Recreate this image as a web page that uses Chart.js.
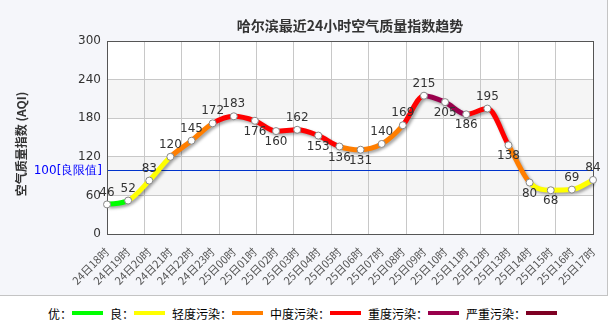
<!DOCTYPE html>
<html>
<head>
<meta charset="utf-8">
<script src="https://cdn.jsdelivr.net/npm/chart.js@4"></script>
<style>
body{margin:0;background:#fff;width:608px;height:330px;overflow:hidden;font-family:"Noto Sans CJK SC",sans-serif}
#panel{position:relative;width:608px;height:296px;box-sizing:border-box;background:#f5f6fa;border-right:1px solid #c4c4c4;border-bottom:1px solid #c4c4c4}
#box{position:relative;width:607px;height:295px}
#legend{display:flex;align-items:center;height:34px;padding-left:48px;font-size:12px;color:#000}
.lg{display:flex;align-items:center;margin-right:7px}
.lg i{display:inline-block;width:31px;height:4px}
</style>
</head>
<body>
<div id="panel"><div id="box"><canvas id="aqiChart"></canvas></div></div>
<div id="legend"></div>
<script>
const HOURS = ['24日18时','24日19时','24日20时','24日21时','24日22时','24日23时','25日00时','25日01时','25日02时','25日03时','25日04时','25日05时','25日06时','25日07时','25日08时','25日09时','25日10时','25日11时','25日12时','25日13时','25日14时','25日15时','25日16时','25日17时'];
const AQI = [46,52,83,120,145,172,183,176,160,162,153,136,131,140,169,215,205,186,195,138,80,68,69,84];
const Y_TICKS = [0,60,120,180,240,300];
const LEVEL_NAMES = ['优','良','轻度污染','中度污染','重度污染','严重污染'];
const LEVEL_MAX = [50,100,150,200,300,500];
const LEVEL_COLORS = ['#00ff00','#ffff00','#ff7e00','#ff0000','#99004c','#7e0023'];
const LIMIT = 100;
const TITLE = '哈尔滨最近24小时空气质量指数趋势';
const Y_TITLE = '空气质量指数 (AQI)';

function levelColor(v){
  for(let i=0;i<LEVEL_MAX.length;i++) if(v<=LEVEL_MAX[i]) return LEVEL_COLORS[i];
  return LEVEL_COLORS[LEVEL_COLORS.length-1];
}

// legend: name then a coloured stroke
document.getElementById('legend').innerHTML = LEVEL_NAMES.map(function(n,i){
  return '<span class="lg">'+n+'：<i style="background:'+LEVEL_COLORS[i]+'"></i></span>';
}).join('');

const decor = {
  id:'decor',
  beforeDraw(chart){
    const c=chart.ctx, a=chart.chartArea, y=chart.scales.y;
    c.save();
    c.fillStyle='#fff';
    c.fillRect(a.left,a.top,a.right-a.left,a.bottom-a.top);
    c.fillStyle='#f5f5f5';
    [[60,120],[180,240]].forEach(function(b){
      const t=y.getPixelForValue(b[1]), btm=y.getPixelForValue(b[0]);
      c.fillRect(a.left,t,a.right-a.left,btm-t);
    });
    c.restore();
  },
  beforeDatasetsDraw(chart){
    const c=chart.ctx, a=chart.chartArea, y=chart.scales.y;
    const py=Math.round(y.getPixelForValue(LIMIT))+0.5;
    c.save();
    c.strokeStyle='#0033cc'; c.lineWidth=1;
    c.beginPath(); c.moveTo(a.left,py); c.lineTo(a.right,py); c.stroke();
    c.strokeStyle='#555';
    c.strokeRect(Math.round(a.left)+0.5,Math.round(a.top)+0.5,Math.round(a.right-a.left),Math.round(a.bottom-a.top));
    c.fillStyle='#0000ff'; c.font='12px "DejaVu Sans"'; c.textAlign='right'; c.textBaseline='middle';
    c.fillText(LIMIT+'[良限值]',a.left-5,py);
    c.restore();
  },
  beforeDatasetDraw(chart,args){
    if(args.index!==0) return;
    const c=chart.ctx;
    c.save();
    c.shadowColor='rgba(0,0,0,0.35)'; c.shadowBlur=3; c.shadowOffsetX=2; c.shadowOffsetY=2;
  },
  afterDatasetDraw(chart,args){
    if(args.index===0) chart.ctx.restore();
  },
  afterDraw(chart){
    const c=chart.ctx, a=chart.chartArea, meta=chart.getDatasetMeta(1);
    c.save();
    c.fillStyle='#333'; c.font='12px "DejaVu Sans"'; c.textAlign='center'; c.textBaseline='middle';
    meta.data.forEach(function(p,i){
      const up = i===0 || AQI[i]>=AQI[i-1];
      c.fillText(String(AQI[i]), p.x, up ? p.y-12 : p.y+11);
    });
    c.font='bold 14px "Noto Sans CJK SC"'; c.fillStyle='#333';
    c.fillText(TITLE,(a.left+a.right)/2,26);
    c.translate(21,144); c.rotate(-Math.PI/2);
    c.font='bold 12px "Noto Sans CJK SC"';
    c.fillText(Y_TITLE,0,0);
    c.restore();
  }
};

new Chart(document.getElementById('aqiChart'),{
  type:'line',
  data:{
    labels:HOURS,
    datasets:[
      { data:AQI, order:1, borderWidth:5, cubicInterpolationMode:'monotone', pointRadius:0, fill:false,
        segment:{ borderColor:function(s){ return levelColor(s.p0.parsed.y); } } },
      { data:AQI, order:0, showLine:false, pointRadius:3.5, pointBackgroundColor:'#fff', pointBorderColor:'#888', pointBorderWidth:1 }
    ]
  },
  options:{
    responsive:true, maintainAspectRatio:false, animation:false,
    layout:{padding:{top:41,right:14,left:0,bottom:0}},
    plugins:{legend:{display:false},tooltip:{enabled:false}},
    scales:{
      y:{ min:0, max:300, afterBuildTicks:function(s){ s.ticks=Y_TICKS.map(function(v){return {value:v};}); },
          afterFit:function(s){ s.width=107; },
          ticks:{ color:'#333', font:{family:'DejaVu Sans',size:12}, padding:6 },
          grid:{ color:'#c8c8c8', drawTicks:false }, border:{display:false} },
      x:{ type:'category', offset:false,
          afterFit:function(s){ s.height=61; },
          ticks:{ color:'#555', font:{family:'Noto Sans CJK SC',size:11}, minRotation:45, maxRotation:45, autoSkip:false, padding:3 },
          grid:{ display:false }, border:{display:false} },
      xg:{ type:'linear', position:'bottom', min:0, max:13,
           afterFit:function(s){ s.height=0; },
           ticks:{ display:false, stepSize:1 },
           grid:{ color:'#c8c8c8', drawTicks:false }, border:{display:false} }
    }
  },
  plugins:[decor]
});
</script>
</body>
</html>
